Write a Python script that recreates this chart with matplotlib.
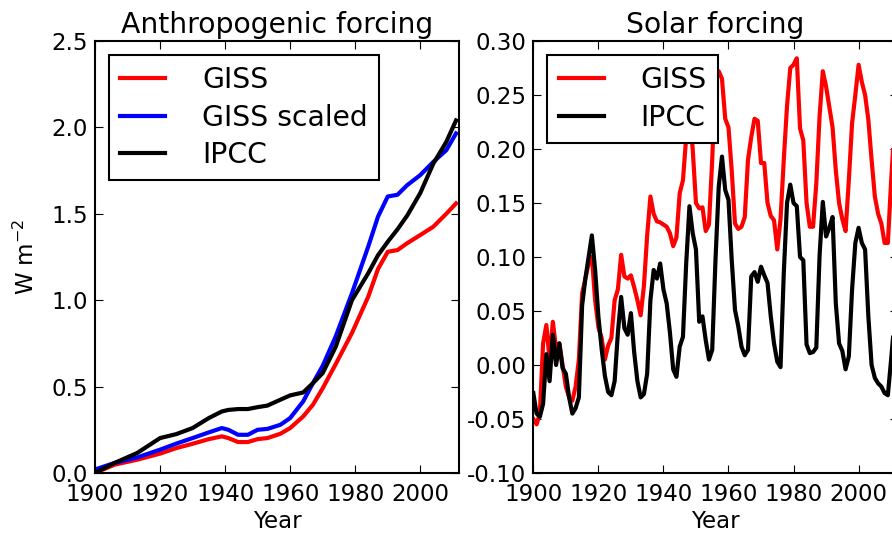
import matplotlib
matplotlib.use("Agg")
import matplotlib.pyplot as plt

# anthropogenic forcing, W m-2
ANTHRO_YEARS = [1900, 1906, 1913, 1920, 1925, 1930, 1935, 1939, 1941, 1944,
                1947, 1950, 1953, 1957, 1960, 1964, 1967, 1970, 1974, 1979,
                1984, 1987, 1990, 1993, 1996, 2000, 2004, 2008, 2011]
GISS_ANTHRO = [0.00, 0.048, 0.077, 0.112, 0.144, 0.169, 0.196, 0.212, 0.202, 0.179,
               0.179, 0.196, 0.202, 0.227, 0.26, 0.327, 0.395, 0.49, 0.63, 0.81,
               1.02, 1.18, 1.28, 1.29, 1.33, 1.377, 1.425, 1.50, 1.56]
GISS_SCALED = [0.02, 0.058, 0.09, 0.135, 0.17, 0.202, 0.235, 0.26, 0.25, 0.221,
               0.221, 0.25, 0.255, 0.279, 0.318, 0.414, 0.52, 0.62, 0.79, 1.04,
               1.31, 1.483, 1.60, 1.61, 1.666, 1.724, 1.80, 1.868, 1.965]
IPCC_ANTHRO = [0.00, 0.058, 0.116, 0.202, 0.225, 0.26, 0.318, 0.356, 0.365, 0.37,
               0.37, 0.381, 0.39, 0.424, 0.449, 0.466, 0.52, 0.578, 0.73, 1.00,
               1.156, 1.26, 1.338, 1.41, 1.49, 1.62, 1.79, 1.916, 2.04]

# solar forcing, one value per year 1900..2011
SOLAR_YEARS = list(range(1900, 2012))
GISS_SOLAR = [
    -0.050, -0.055, -0.045, 0.020, 0.037, 0.005, 0.040, 0.015, 0.020, 0.000,
    -0.020, -0.030, -0.033, -0.020, 0.005, 0.066, 0.080, 0.094, 0.100, 0.060,
    0.035, 0.025, 0.005, 0.018, 0.025, 0.060, 0.070, 0.102, 0.082, 0.080,
    0.083, 0.072, 0.060, 0.046, 0.073, 0.120, 0.156, 0.140, 0.133, 0.132,
    0.130, 0.128, 0.122, 0.110, 0.118, 0.159, 0.171, 0.211, 0.235, 0.200,
    0.150, 0.145, 0.146, 0.124, 0.130, 0.190, 0.268, 0.272, 0.265, 0.228,
    0.220, 0.180, 0.131, 0.126, 0.128, 0.137, 0.190, 0.211, 0.228, 0.226,
    0.187, 0.187, 0.150, 0.138, 0.134, 0.107, 0.135, 0.190, 0.240, 0.275,
    0.278, 0.284, 0.219, 0.208, 0.150, 0.128, 0.128, 0.168, 0.230, 0.272,
    0.258, 0.239, 0.220, 0.180, 0.150, 0.135, 0.124, 0.171, 0.224, 0.250,
    0.278, 0.262, 0.250, 0.227, 0.190, 0.156, 0.140, 0.131, 0.113, 0.113,
    0.170, 0.220,
]
IPCC_SOLAR = [
    -0.026, -0.045, -0.048, -0.036, 0.010, -0.015, 0.028, 0.000, 0.020, -0.003,
    -0.008, -0.030, -0.045, -0.040, -0.030, 0.055, 0.080, 0.100, 0.120, 0.088,
    0.045, 0.015, -0.010, -0.025, -0.028, -0.015, 0.030, 0.063, 0.034, 0.028,
    0.048, 0.012, -0.015, -0.030, -0.027, -0.008, 0.060, 0.088, 0.080, 0.094,
    0.070, 0.057, 0.030, -0.004, -0.011, 0.017, 0.026, 0.094, 0.147, 0.122,
    0.107, 0.040, 0.045, 0.023, 0.005, 0.014, 0.097, 0.165, 0.193, 0.162,
    0.153, 0.097, 0.051, 0.036, 0.017, 0.009, 0.014, 0.082, 0.086, 0.077,
    0.091, 0.083, 0.076, 0.045, 0.020, 0.003, -0.002, 0.085, 0.150, 0.167,
    0.150, 0.147, 0.100, 0.097, 0.019, 0.011, 0.012, 0.016, 0.101, 0.151,
    0.119, 0.127, 0.137, 0.057, 0.020, 0.013, -0.004, 0.008, 0.070, 0.113,
    0.127, 0.113, 0.107, 0.045, 0.000, -0.012, -0.017, -0.020, -0.026, -0.028,
    0.005, 0.040,
]

BASE_SIZE = 16.5
BIG_SIZE = 20.3
LW = 3

plt.rcParams["font.family"] = "DejaVu Sans"
plt.rcParams["font.size"] = BASE_SIZE
plt.rcParams["axes.linewidth"] = 1.5
plt.rcParams["xtick.direction"] = "in"
plt.rcParams["ytick.direction"] = "in"
plt.rcParams["xtick.top"] = True
plt.rcParams["ytick.right"] = True
plt.rcParams["xtick.major.size"] = 6
plt.rcParams["ytick.major.size"] = 6
plt.rcParams["xtick.major.pad"] = 7
plt.rcParams["ytick.major.pad"] = 5


def legend_box(ax):
    leg = ax.legend(
        loc="upper left",
        fontsize=BIG_SIZE,
        fancybox=False,
        framealpha=1,
        edgecolor="k",
        handlelength=1.6,
        handletextpad=1.3,
        borderpad=0.4,
        labelspacing=0.33,
        borderaxespad=0.5,
    )
    leg.get_frame().set_linewidth(1.5)


fig = plt.figure(figsize=(8.92, 5.33), dpi=100)

ax1 = fig.add_axes([0.1065, 0.1126, 0.4084, 0.8105])
ax1.plot(ANTHRO_YEARS, GISS_ANTHRO, color="r", lw=LW, label="GISS")
ax1.plot(ANTHRO_YEARS, GISS_SCALED, color="b", lw=LW, label="GISS scaled")
ax1.plot(ANTHRO_YEARS, IPCC_ANTHRO, color="k", lw=LW, label="IPCC")
ax1.set_xlim(1900, 2012)
ax1.set_ylim(0, 2.5)
ax1.set_xticks([1900, 1920, 1940, 1960, 1980, 2000])
ax1.set_yticks([0.0, 0.5, 1.0, 1.5, 2.0, 2.5])
ax1.set_title("Anthropogenic forcing", fontsize=BIG_SIZE, pad=6)
ax1.set_xlabel("Year", labelpad=3)
ax1.set_ylabel("W m$^{-2}$", labelpad=9)
legend_box(ax1)

ax2 = fig.add_axes([0.5979, 0.1126, 0.4084, 0.8105])
ax2.plot(SOLAR_YEARS, GISS_SOLAR, color="r", lw=LW, label="GISS")
ax2.plot(SOLAR_YEARS, IPCC_SOLAR, color="k", lw=LW, label="IPCC")
ax2.set_xlim(1900, 2012)
ax2.set_ylim(-0.10, 0.30)
ax2.set_xticks([1900, 1920, 1940, 1960, 1980, 2000])
ax2.set_yticks([-0.10, -0.05, 0.0, 0.05, 0.10, 0.15, 0.20, 0.25, 0.30])
ax2.yaxis.set_major_formatter(matplotlib.ticker.FormatStrFormatter("%.2f"))
ax2.set_title("Solar forcing", fontsize=BIG_SIZE, pad=6)
ax2.set_xlabel("Year", labelpad=3)
legend_box(ax2)

fig.savefig("out.png", dpi=100, facecolor="white")
